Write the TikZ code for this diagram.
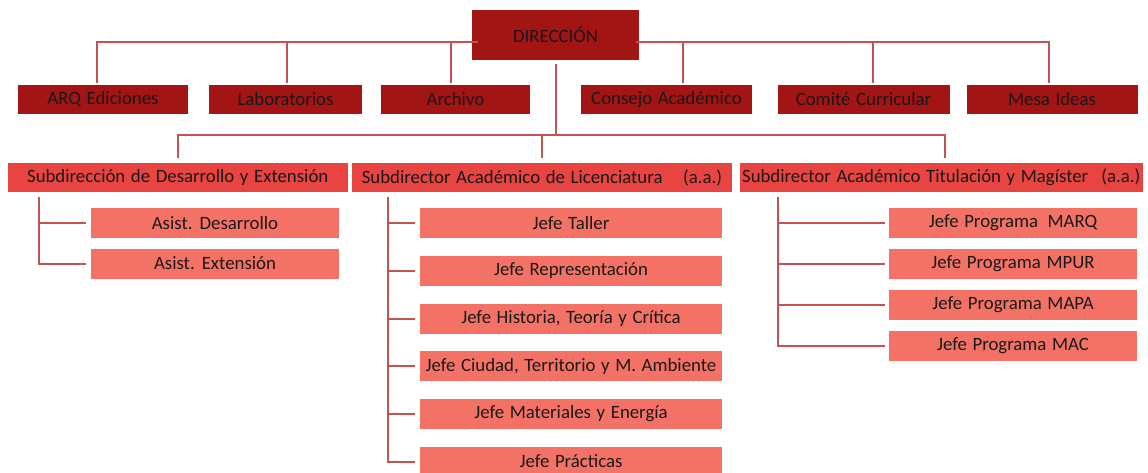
\documentclass[tikz,border=0pt]{standalone}
\usepackage{fontspec}
\setmainfont{Carlito}
\newcommand\myboxfont{\fontsize{18.8}{22}\selectfont\spaceskip=0.3em\relax}
\begin{document}
\begin{tikzpicture}[x=1pt,y=-1pt,
  box/.style={minimum height=29pt, inner sep=0pt, font=\myboxfont, text=black!90},
  dark/.style={box, fill=darkred},
  mid/.style={box, fill=midred},
  leaf/.style={box, fill=leafred, minimum height=30pt},
  conn/.style={draw=linered, line width=2pt}
]
\definecolor{darkred}{RGB}{163,20,20}
\definecolor{midred}{RGB}{232,68,66}
\definecolor{leafred}{RGB}{244,114,101}
\definecolor{linered}{RGB}{196,82,80}
\useasboundingbox (0,0) rectangle (1148,473);

% nodes
\node[dark, minimum width=167pt, minimum height=50pt] (dir) at (555.5,35) {DIRECCIÓN};
\node[dark, minimum width=170pt] (arq) at (103,99.5) {ARQ Ediciones};
\node[dark, minimum width=153pt] (lab) at (285.5,99.5) {Laboratorios};
\node[dark, minimum width=149pt] (arc) at (455.5,99.5) {Archivo};
\node[dark, minimum width=171pt] (con) at (666.5,99.5) {Consejo Académico};
\node[dark, minimum width=172pt] (com) at (863.5,99.5) {Comité Curricular};
\node[dark, minimum width=171pt] (mesa) at (1052,99.5) {Mesa Ideas};

\node[mid, minimum width=340.5pt] (sub1) at (177.75,177.5) {Subdirección de Desarrollo y Extensión};
\node[mid, minimum width=380pt] (sub2) at (542,177.5) {Subdirector Académico de Licenciatura\hspace{1.1em}(a.a.)};
\node[mid, minimum width=403.5pt] (sub3) at (941.25,177.5) {Subdirector Académico Titulación y Magíster\hspace{0.7em}(a.a.)};

\node[leaf, minimum width=248pt] (ad) at (215,223) {Asist. Desarrollo};
\node[leaf, minimum width=248pt] (ae) at (215,263.5) {Asist. Extensión};

\node[leaf, minimum width=302pt] (jt) at (571,223) {Jefe Taller};
\node[leaf, minimum width=302pt] (jr) at (571,271) {Jefe Representación};
\node[leaf, minimum width=302pt] (jh) at (571,318.75) {Jefe Historia, Teoría y Crítica};
\node[leaf, minimum width=302pt] (jc) at (571,366.25) {Jefe Ciudad, Territorio y M. Ambiente};
\node[leaf, minimum width=302pt] (jm) at (571,414) {Jefe Materiales y Energía};
\node[leaf, minimum width=302pt] (jp) at (571,461.5) {Jefe Prácticas};

\node[leaf, minimum width=248pt] (m1) at (1013,223) {Jefe Programa\hspace{0.5em}MARQ};
\node[leaf, minimum width=248pt] (m2) at (1013,263.5) {Jefe Programa MPUR};
\node[leaf, minimum width=248pt] (m3) at (1013,304.5) {Jefe Programa MAPA};
\node[leaf, minimum width=248pt] (m4) at (1013,345.5) {Jefe Programa MAC};

% top connectors
\coordinate (tl) at ([yshift=-7pt]dir.west);
\coordinate (tr) at ([yshift=-7pt]dir.east);
\draw[conn, shorten >=-6pt] ([xshift=-6pt,yshift=2pt]arq.north) |- (tl);
\draw[conn] ([xshift=1.5pt,yshift=2pt]lab.north) -- ([xshift=1.5pt]lab.north |- tl);
\draw[conn] ([xshift=-4.5pt,yshift=2pt]arc.north) -- ([xshift=-4.5pt]arc.north |- tl);
\draw[conn, shorten >=-3pt] ([xshift=-3pt,yshift=2pt]mesa.north) |- (tr);
\draw[conn] ([xshift=16.5pt,yshift=2pt]con.north) -- ([xshift=16.5pt]con.north |- tr);
\draw[conn] ([xshift=9.5pt,yshift=2pt]com.north) -- ([xshift=9.5pt]com.north |- tr);

% second level
\coordinate (h2) at (555,135);
\draw[conn, shorten <=4pt] (dir.south) -- (dir.south |- h2);
\draw[conn, shorten >=5pt] (dir.south |- h2) -| (sub1.north);
\draw[conn, shorten >=5pt] (dir.south |- h2) -| ([xshift=4pt]sub3.north);
\draw[conn, shorten >=5pt] (sub2.north |- h2) -- (sub2.north);

% third level
\coordinate (b1) at ([xshift=31.5pt]sub1.south west);
\coordinate (b2) at ([xshift=35.7pt]sub2.south west);
\coordinate (b3) at ([xshift=38.8pt]sub3.south west);
\foreach \c in {ad,ae}{\draw[conn, shorten <=5pt, shorten >=5pt] (b1) |- (\c.west);}
\foreach \c in {jt,jr,jh,jc,jm,jp}{\draw[conn, shorten <=5pt, shorten >=5pt] (b2) |- (\c.west);}
\foreach \c in {m1,m2,m3,m4}{\draw[conn, shorten <=5pt, shorten >=4pt] (b3) |- (\c.west);}
\end{tikzpicture}
\end{document}
